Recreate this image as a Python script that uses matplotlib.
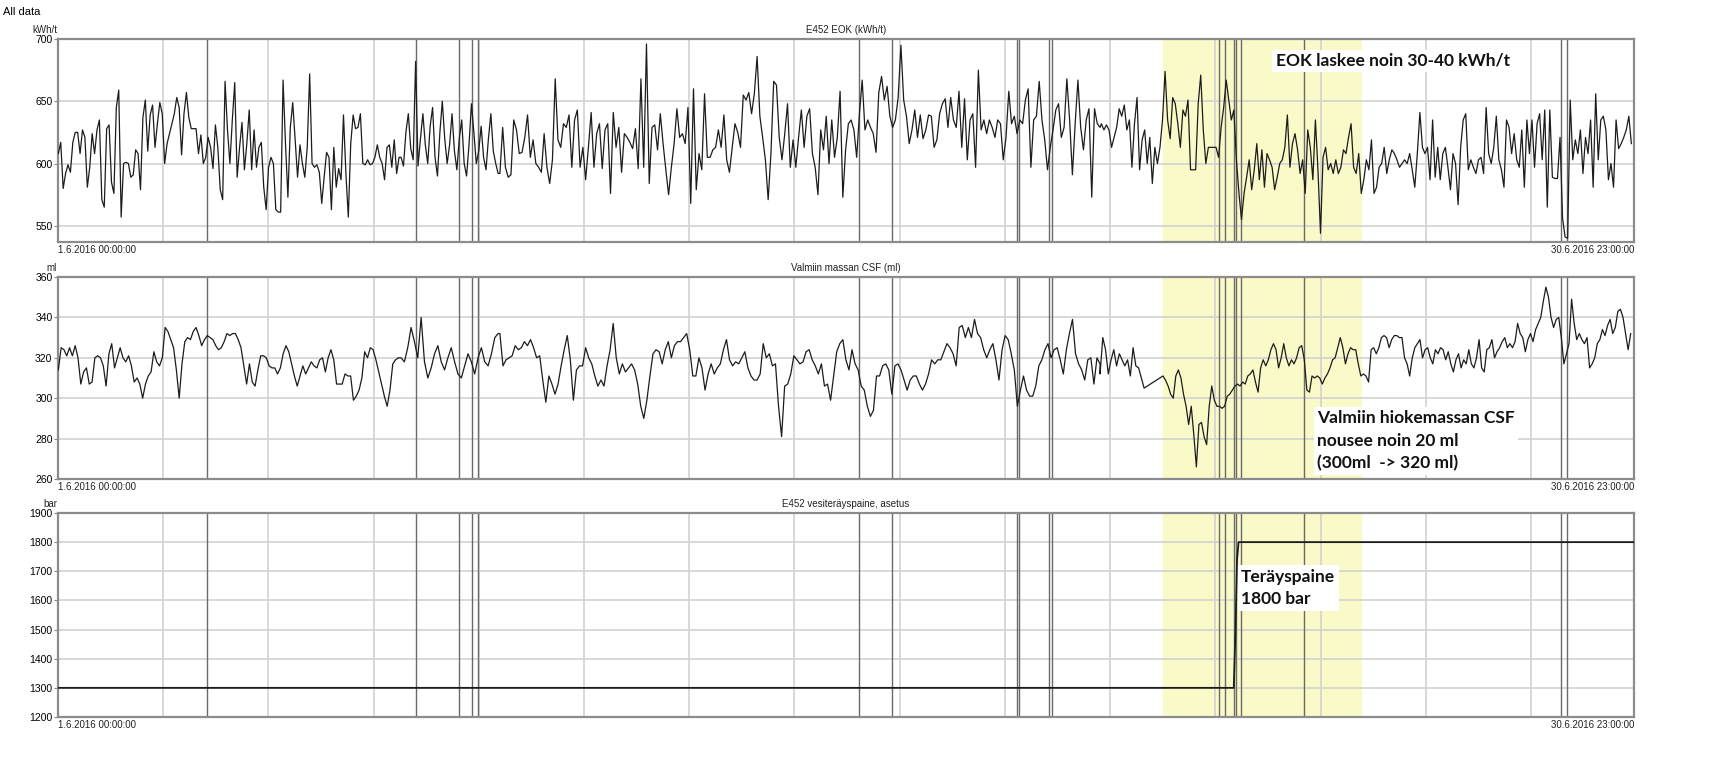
import matplotlib.pyplot as plt
import numpy as np

# time axis in hours from 1.6.2016 00:00:00 to 30.6.2016 23:00:00
t_end = 719
grid_hours = np.arange(48, 719, 48)
event_hours = [68.0, 163.3, 182.9, 188.9, 191.6, 365.4, 380.5, 437.5, 438.4, 452.1, 453.5,
               529.7, 532.4, 536.5, 537.4, 539.7, 568.4, 685.7, 688.4]
trial_start, trial_end = 504.1, 594.4

# E452 EOK (kWh/t) in four stretches
eok_a = [608,617,580,592,599,593,617,625,625,608,627,621,581,597,624,608,627,635,571,565,628,631,585,576,645,659,557,600,601,600,589,591,611,608,579,637,651,610,639,647,613,632,649,640,600,616,624,632,640,653,645,607,640,657,637,628,628,628,608,623,600,605,621,613,596,631,613,579,571,666,627,600,635,665,589,613,633,595,616,643,595,627,597,613,617,581,563,597,605,600,563,561,561,667,616,573,629,649,619,589,615,600,589,613,672,600,597,599,593,568,589,609,605,563,613,581,596,587,639,592,557,616,639,628,629,640,600,599,603,599,600,605,615,605,600,587,613,615,597,619,592,605]
eok_b = [605,598,625,640,612,603,682,598,620,640,615,600,630,645,605,590,625,650,620,600,615,640,610,595,620,635,600,590,615,648,625,600,610,630,605,595,620,640,610,600,592]
eok_c = [592,629,597,589,591,635,627,608,609,621,639,605,619,600,597,593,624,597,584,603,668,619,613,632,629,639,597,635,643,597,613,587,613,641,597,624,632,596,627,632,576,641,613,629,593,624,621,617,612,628,596,668,597,696,584,629,631,611,640,616,595,575,597,616,644,621,624,616,645,568,660,579,608,595,656,605,605,611,613,627,613,639,603,593,613,632,625,613,655,651,657,640,656,686,638,621,603,571,608,666,663,621,603,624,648,597,619,597,621,643,613,638,644,608,597,575,627,611,638,600,635,605,621,658,573,611,632,635,627,605,640,667,627,635,629,624,609,657,670,651,662,638,629,635,653,695,651,638,616,627,643,621,639,620,627,639,638,613,619,640,648,652,629,653,635,629,658,613,652,603,635,640,597,675,627,635,624,635,629,621,635,632,603,621,658,632,638,624,635,632,651,660,597,635,638,666,635,619,595,613,627,643,648,621,629,668,635,591,632,667,629,611,635,644,573,644,632,629]
eok_d = [632,627,631,627,613,621,629,644,638,647,627,635,597,632,653,595,619,627,600,621,584,613,600,613,635,674,635,620,653,648,632,613,643,638,651,595,595,595,648,671,627,600,613,613,613,613,605,629,645,667,651,635,643,603,576,555,576,589,603,579,595,616,587,611,581,608,603,597,579,589,600,603,613,639,597,616,624,611,592,603,576,627,613,587,635,595,544,605,613,595,600,592,603,592,597,611,608,621,632,597,592,608,576,587,603,595,619,576,581,597,600,613,592,603,611,608,603,597,600,603,600,608,595,581,608,641,613,608,613,587,635,589,613,587,608,613,597,579,608,600,567,613,635,640,595,603,597,592,603,605,592,645,608,600,613,638,603,595,581,635,629,608,624,603,597,627,581,635,608,635,597,632,640,603,643,565,643,589,588,588,621,556,541,540,651,603,619,608,627,592,621,608,635,581,656,603,635,638,627,587,600,581,635,612,616,621,627,638,616]

# Valmiin massan CSF (ml)
csf_a = [314,325,324,321,325,321,326,320,307,313,315,307,308,320,321,320,316,306,322,327,315,320,325,320,318,321,316,308,310,307,300,307,311,313,323,318,316,320,335,333,329,325,314,300,317,328,330,329,333,335,331,326,329,331,330,329,326,324,325,328,332,331,332,332,329,325,316,307,317,308,306,314,321,321,320,316,315,315,312,315,322,326,323,317,311,306,311,316,312,315,318,316,315,319,320,313,320,324,319,307,307,307,312,311,311,299,301,304,310,323,320,325,324,319,313,307,301,296,304,317,319,320]
csf_b = [320,318,325,335,328,320,340,318,310,315,322,326,318,314,320,325,318,312,310,316,322,318,312,320,325,318,316,322,330,332]
csf_c = [332,316,319,320,321,326,324,325,328,326,329,325,320,321,309,298,311,307,302,307,316,324,331,319,299,314,316,316,325,320,317,311,306,309,306,316,324,337,320,312,317,313,315,317,314,307,296,290,299,311,322,324,323,317,324,328,320,326,328,328,330,332,324,311,311,320,315,304,312,317,312,315,317,324,329,319,316,318,317,320,323,315,311,309,309,312,327,320,322,316,317,296,281,306,307,312,321,319,317,318,323,324,319,316,312,317,306,307,299,311,323,327,329,319,314,324,317,314,306,304,296,291,294,311,311,316,317,314,302,316,317,314,309,304,309,311,311,307,304,307,312,319,317,319,319,323,327,325,322,316,335,336,330,335,330,339,332,330,324,320,324,327,319,309,324,331,329,322,314,296,304,311,304,301,301,306,316,319,324,327,320,324,325,319,312,324,332,339,322,317,314,309,319,320,307,320,317]
csf_d1 = [312,330,324,312,319,324,316,322,319,316,319,311,325,316,315,310,305]
csf_d2 = [311,309,306,302,300,311,314,310,302,296,287,296,282,266,287,288,281,277,296,306,299,296,296,295,296,301,302,304,306,307,306,308,307,311,312,314,308,303,315,319,316,319,324,327,324,315,320,327,320,316,319,317,320,325,326,319,304,303,311,310,311,310,307,310,312,315,319,320,325,330,325,317,322,325,324,324,317,311,312,311,308,324,325,322,325,330,331,330,325,329,331,331,330,330,320,317,311,320,325,327,329,320,324,325,320,317,324,322,325,324,319,323,317,313,319,322,315,319,317,324,317,315,320,329,315,313,324,325,329,320,323,325,328,330,325,327,325,328,337,332,330,323,329,332,328,334,337,340,348,355,350,340,335,339,340,330,317,322,327,349,337,329,332,329,327,330,315,317,320,327,329,334,331,336,339,332,335,343,344,340,332,324,332]

# E452 vesiteräyspaine, asetus (bar)
press_t = [0, 536.4, 537.2, 537.9, 538.6, 719]
press_v = [1300, 1300, 1500, 1740, 1800, 1800]


def stretch(vals, t0, t1):
    return np.linspace(t0, t1, len(vals))


eok_t = np.concatenate([stretch(eok_a, 0.15, 155.6), stretch(eok_b, 156.5, 200.8),
                        stretch(eok_c, 201.6, 475.4), stretch(eok_d, 476.0, 717.8)])
eok_v = np.concatenate([eok_a, eok_b, eok_c, eok_d])
csf_t = np.concatenate([stretch(csf_a, 0.15, 155.3), stretch(csf_b, 156.5, 200.8),
                        stretch(csf_c, 201.6, 475.4), stretch(csf_d1, 475.4, 495.5),
                        stretch(csf_d2, 504.1, 717.5)])
csf_v = np.concatenate([csf_a, csf_b, csf_c, csf_d1, csf_d2])

W, H = 1717, 759
fig = plt.figure(figsize=(W / 100, H / 100), dpi=100)
tick_font = 'Liberation Sans'

panels = [
    dict(rect=(39, 242), title='E452 EOK (kWh/t)', unit='kWh/t', ylim=(537, 700),
         yticks=[550, 600, 650, 700], t=eok_t, v=eok_v, lw=0.9),
    dict(rect=(277, 479), title='Valmiin massan CSF (ml)', unit='ml', ylim=(260, 360),
         yticks=[260, 280, 300, 320, 340, 360], t=csf_t, v=csf_v, lw=0.9),
    dict(rect=(513, 717), title='E452 vesiteräyspaine, asetus', unit='bar', ylim=(1200, 1900),
         yticks=list(range(1200, 2000, 100)), t=press_t, v=press_v, lw=1.3),
]

for p in panels:
    top, bot = p['rect']
    ax = fig.add_axes([58 / W, 1 - bot / H, 1576 / W, (bot - top) / H])
    ax.set_xlim(0, t_end)
    ax.set_ylim(*p['ylim'])
    ax.axvspan(trial_start, trial_end, color='#fafac8', zorder=0)
    for g in grid_hours:
        ax.axvline(g, color='#d2d2d2', lw=1.2, zorder=1)
    for yv in p['yticks']:
        ax.axhline(yv, color='#d2d2d2', lw=1.2, zorder=1)
    for e in event_hours:
        ax.axvline(e, color='#6a6a6a', lw=1.0, zorder=2)
    ax.plot(p['t'], p['v'], color='#1c1c1c', lw=p['lw'], zorder=3)
    ax.set_xticks([])
    ax.set_yticks(p['yticks'])
    ax.tick_params(axis='y', length=3, width=0.8, color='#888888', pad=1, labelsize=7.5)
    for lab in ax.get_yticklabels():
        lab.set_fontfamily(tick_font)
    for s in ax.spines.values():
        s.set_color('#8c8c8c')
        s.set_linewidth(1.6)
    ax.set_title(p['title'], fontsize=7, family=tick_font, color='#222222', pad=4)
    fig.text(57 / W, 1 - (top - 9) / H, p['unit'], fontsize=7, family=tick_font,
             ha='right', va='center', color='#222222')
    ax.text(0, -0.015, '1.6.2016 00:00:00', transform=ax.transAxes, ha='left', va='top',
            fontsize=7, family=tick_font, color='#222222')
    ax.text(1, -0.015, '30.6.2016 23:00:00', transform=ax.transAxes, ha='right', va='top',
            fontsize=7, family=tick_font, color='#222222')

fig.text(3 / W, 1 - 12 / H, 'All data', fontsize=8, family=tick_font, ha='left', va='center')

note = dict(fontsize=12.5, family='Lato', weight='bold', color='#111111', linespacing=1.5,
            bbox=dict(boxstyle='square,pad=0.2', fc='white', ec='none'))
fig.text(1393 / W, 1 - 61 / H, 'EOK laskee noin 30-40 kWh/t', ha='center', va='center', **note)
fig.text(1317 / W, 1 - 441 / H, 'Valmiin hiokemassan CSF\nnousee noin 20 ml\n(300ml  -> 320 ml)',
         ha='left', va='center', **note)
fig.text(1241 / W, 1 - 588 / H, 'Teräyspaine\n1800 bar', ha='left', va='center', **note)

fig.savefig('out.png', dpi=100)
